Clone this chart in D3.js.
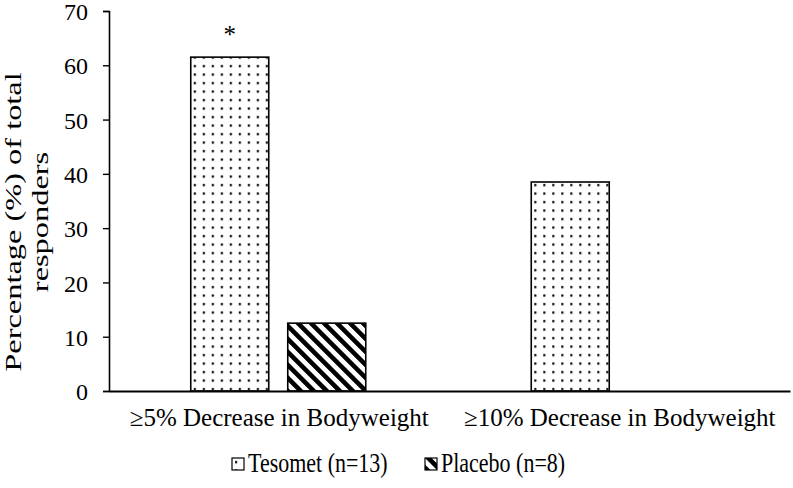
<!DOCTYPE html>
<html>
<head>
<meta charset="utf-8">
<script src="https://cdn.jsdelivr.net/npm/d3@7"></script>
<style>
body { margin: 0; background: #fff; }
text { font-family: "Liberation Serif", "Times New Roman", serif; fill: #000; }
</style>
</head>
<body>
<div id="chart"></div>
<script>
// data
var categories = ["\u22655% Decrease in Bodyweight", "\u226510% Decrease in Bodyweight"];
var seriesNames = ["Tesomet (n=13)", "Placebo (n=8)"];
var tesomet = [61.5, 38.5];
var placebo = [12.5, 0];
var yTicks = [0, 10, 20, 30, 40, 50, 60, 70];
var significant = [true, false];

var W = 793, H = 488;
var margin = {top: 11, right: 3, bottom: 97, left: 109},
    width = W - margin.left - margin.right,
    height = H - margin.top - margin.bottom;

var svg = d3.select("#chart").append("svg")
    .attr("width", W)
    .attr("height", H);

var defs = svg.append("defs");
// dotted pattern
var dots = defs.append("pattern")
    .attr("id", "dots")
    .attr("patternUnits", "userSpaceOnUse")
    .attr("width", 9).attr("height", 8.5);
dots.append("rect").attr("width", 9).attr("height", 8.5).attr("fill", "#fff");
dots.append("rect").attr("x", 3).attr("y", 3).attr("width", 2.2).attr("height", 2.2).attr("fill", "#000");

// diagonal stripes
var stripes = defs.append("pattern")
    .attr("id", "stripes")
    .attr("patternUnits", "userSpaceOnUse")
    .attr("width", 9.2).attr("height", 9.2)
    .attr("patternTransform", "rotate(-45)");
stripes.append("rect").attr("width", 9.2).attr("height", 9.2).attr("fill", "#fff");
stripes.append("rect").attr("width", 4.6).attr("height", 9.2).attr("fill", "#000");

var fills = ["url(#dots)", "url(#stripes)"];

var g = svg.append("g")
    .attr("transform", "translate(" + margin.left + "," + margin.top + ")");

var groupW = 175;
var x0 = d3.scaleBand().domain(categories).range([0, width]);
var x1 = d3.scaleBand().domain(seriesNames).range([0, groupW]).paddingInner(0.196);
var y = d3.scaleLinear().domain([0, 70]).range([height, 0]);

var data = categories.map(function(c, i) {
  return {cat: c, values: [
    {name: seriesNames[0], v: tesomet[i]},
    {name: seriesNames[1], v: placebo[i]}
  ]};
});

var groupOffset = (x0.bandwidth() - groupW) / 2 - 1;

var slice = g.selectAll(".slice")
    .data(data)
  .enter().append("g")
    .attr("class", "slice")
    .attr("transform", function(d) { return "translate(" + (x0(d.cat) + groupOffset) + ",0)"; });

slice.selectAll("rect")
    .data(function(d) { return d.values.filter(function(v) { return v.v > 0; }); })
  .enter().append("rect")
    .attr("x", function(d) { return x1(d.name); })
    .attr("y", function(d) { return y(d.v); })
    .attr("width", x1.bandwidth())
    .attr("height", function(d) { return height - y(d.v); })
    .attr("fill", function(d) { return fills[seriesNames.indexOf(d.name)]; })
    .attr("stroke", "#000")
    .attr("stroke-width", 1.6);

// asterisk
slice.filter(function(d, i) { return significant[i]; })
  .append("text")
    .attr("x", x1(seriesNames[0]) + x1.bandwidth() / 2)
    .attr("y", y(tesomet[0]) - 14)
    .attr("text-anchor", "middle")
    .style("font-size", "25px")
    .text("*");

// y axis
var yAxis = d3.axisLeft(y).tickValues(yTicks).tickSize(6).tickPadding(15);
var ya = g.append("g").call(yAxis);
ya.select(".domain").attr("stroke-width", 1.6);
ya.selectAll(".tick line").attr("stroke-width", 1.4);
ya.selectAll(".tick text")
    .style("font-family", "Liberation Serif")
    .style("font-size", "24px")
    .attr("dy", "0.36em");

// x axis
var xAxis = d3.axisBottom(x0).tickSize(0).tickPadding(17);
var xa = g.append("g")
    .attr("transform", "translate(0," + height + ")")
    .call(xAxis);
xa.select(".domain").attr("stroke-width", 1.8);
xa.selectAll(".tick text")
    .style("font-family", "Liberation Serif")
    .style("font-size", "25px");

// y label
var ylab = svg.append("text")
    .attr("transform", "translate(21,222) rotate(-90) scale(1.35,1)")
    .attr("text-anchor", "middle")
    .style("font-size", "24px");
ylab.append("tspan").attr("x", 0).attr("y", 0).text("Percentage (%) of total");
ylab.append("tspan").attr("x", 0).attr("y", 27).text("responders");

// legend
var legendX = [232, 425];
var legend = svg.selectAll(".legend")
    .data(seriesNames)
  .enter().append("g")
    .attr("class", "legend")
    .attr("transform", function(d, i) { return "translate(" + legendX[i] + ",458)"; });

legend.append("rect")
    .attr("width", 12).attr("height", 12)
    .attr("fill", function(d, i) { return fills[i]; })
    .attr("stroke", "#000")
    .attr("stroke-width", 1.2);

legend.append("text")
    .attr("transform", "translate(16,14) scale(1,1.2)")
    .style("font-size", "22px")
    .text(function(d) { return d; });
</script>
</body>
</html>
